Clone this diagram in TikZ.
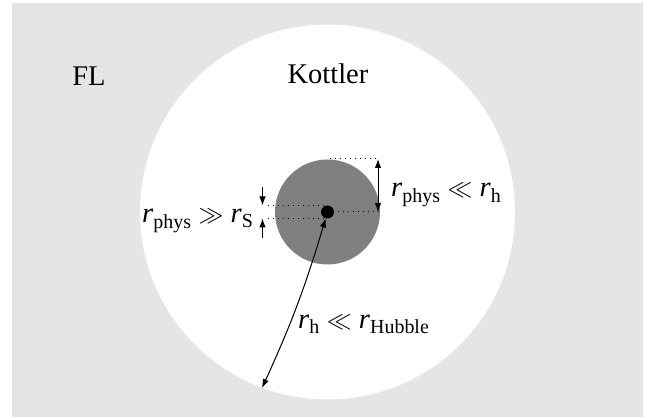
\documentclass[tikz,border=0pt]{standalone}
\usepackage{amssymb}
\usepackage{fontspec}
\setmainfont{Liberation Serif}
\usepackage{tikz}
\usetikzlibrary{arrows.meta, positioning, calc}

\definecolor{flgray}{RGB}{229,229,229}
\definecolor{bodygray}{RGB}{128,128,128}

\begin{document}
\begin{tikzpicture}[
  x=1pt, y=-1pt,
  lbl/.style={font=\fontsize{28.5}{32}\selectfont, inner sep=0pt},
  arr/.style={{Latex[length=9pt,width=6.5pt]}-{Latex[length=9pt,width=6.5pt]}, line width=1pt},
  onearr/.style={-{Latex[length=9pt,width=6.5pt]}, line width=1pt},
  dots/.style={line width=1pt, dash pattern=on 1.2pt off 3.8pt},
  bhdot/.style={circle, fill=black, inner sep=0pt, minimum size=13pt}
]
  \useasboundingbox (0,0) rectangle (650,419);
  \fill[flgray] (12,3) rectangle (643,417);

  \coordinate (c) at (327.5,212);
  \fill[white] (c) circle (187.5);
  \fill[bodygray] (c) circle (52.5);

  % regions
  \node[lbl] (fl) at (89,76) {FL};
  \node[lbl] (kottler) at (328,74) {Kottler};

  % helper points
  \coordinate (top) at (330,159);
  \coordinate (rtop) at (378,159);
  \coordinate (rmid) at (378,212);
  \coordinate (lup) at (268,205.5);
  \coordinate (llow) at (268,218.5);
  \coordinate (aup) at (262.5,187);
  \coordinate (aupend) at (262.5,205.5);
  \coordinate (alow) at (262.5,238);
  \coordinate (alowend) at (262.5,218.5);
  \coordinate (rim) at (262,388);

  \draw[dots] (top) -- (rtop);
  \draw[dots] (c) -- (rmid);
  \draw[dots] (lup) -- (327.5,205.5);
  \draw[dots] (llow) -- (327.5,218.5);

  \node[bhdot] (bh) at (c) {};

  \draw[arr] (rtop) -- (rmid);
  \draw[onearr] (aup) -- (aupend);
  \draw[onearr] (alow) -- (alowend);
  \draw[arr] (bh) to[bend left=4] (rim);

  % labels
  \node[lbl, anchor=base west] (rs) at (142,223)
    {\textit{r}\textsubscript{phys} $\gg$ \textit{r}\textsubscript{S}};
  \node[lbl, anchor=base west] (rh) at (391,197)
    {\textit{r}\textsubscript{phys} $\ll$ \textit{r}\textsubscript{h}};
  \node[lbl, anchor=base west] (rhub) at (298,328)
    {\textit{r}\textsubscript{h} $\ll$ \textit{r}\textsubscript{Hubble}};
\end{tikzpicture}
\end{document}
